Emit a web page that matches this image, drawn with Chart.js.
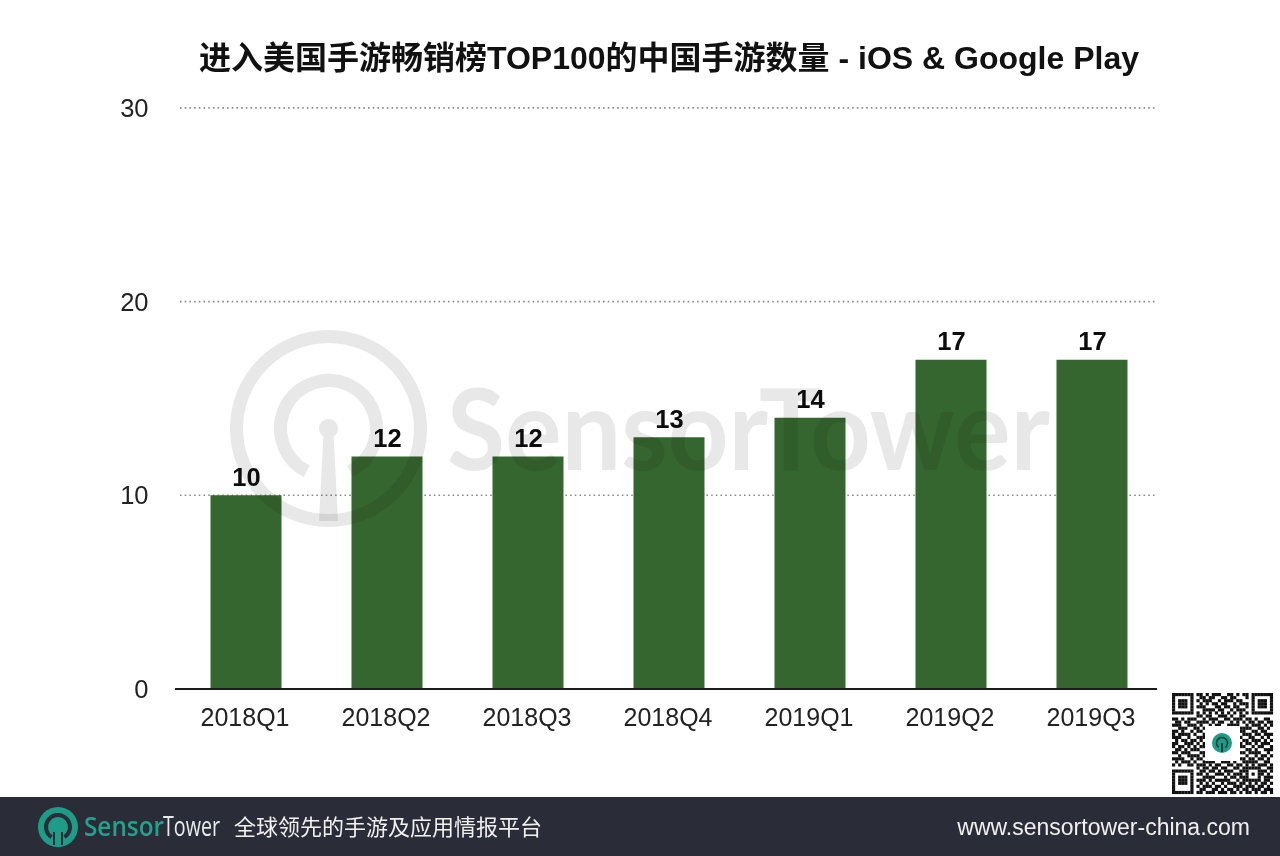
<!DOCTYPE html>
<html><head><meta charset="utf-8">
<style>html,body{margin:0;padding:0;background:#fff}#w{width:1280px;height:856px;position:relative}</style>
<script src="https://cdn.jsdelivr.net/npm/chart.js@4/dist/chart.umd.min.js"></script>
</head><body><div id="w"><canvas id="c" width="1280" height="856"></canvas></div>
<script>
const categories = ["2018Q1","2018Q2","2018Q3","2018Q4","2019Q1","2019Q2","2019Q3"];
const values = [10,12,12,13,14,17,17];
const titleText = "进入美国手游畅销榜TOP100的中国手游数量 - iOS & Google Play";
const sloganText = "全球领先的手游及应用情报平台";
const urlText = "www.sensortower-china.com";
const qrRows = [
"111111101101011100110101101111111",
"100000100110110011011000101000001",
"101110101011100101110110001011101",
"101110100101011011001011101011101",
"101110101110001101101100101011101",
"100000100011110110010111001000001",
"111111101010101010101010101111111",
"000000001101100111010011000000000",
"110101110010111001101110110100110",
"011011001111010110010101011011011",
"111001110100101100111100101110101",
"001110011011110011001011110011010",
"110100101101000000000011001101100",
"101111010010000000000001110110111",
"111001001110000000000010011001010",
"010110110100000000000001101110101",
"110011101011000000000010110101110",
"101101010110000000000011001011001",
"011010111001000000000000110100111",
"110111000111000000000011011110010",
"001001111010110101101100100101101",
"111100101101001110010111011011010",
"010111010011110011101001111100110",
"101001101110101100110110101011101",
"000000001011011011001101111110011",
"111111100110110101110011100011101",
"100000101101001110101110101011010",
"101110100011110001011011100010111",
"101110101110101111100101111110110",
"101110100101010010111011010101101",
"100000101011101101001110111011010",
"100000100110011010110101101110111",
"111111101101110111011010110101101"];
const F = "'Liberation Sans','Noto Sans CJK SC',sans-serif";

const decor = {
  id:'decor',
  beforeDraw(ch){
    const x=ch.ctx; x.save();
    x.fillStyle='#fff'; x.fillRect(0,0,1280,856);
    x.fillStyle='#2a2d38'; x.fillRect(0,797,1280,59);
    x.restore();
  },
  beforeDatasetsDraw(ch){
    const x=ch.ctx, yS=ch.scales.y;
    x.save();
    x.strokeStyle='#8c8c8c'; x.lineWidth=1.6; x.setLineDash([1.6,3.1]);
    yS.ticks.forEach(t=>{ if(t.value===0) return;
      const p=yS.getPixelForValue(t.value);
      x.beginPath(); x.moveTo(180,p); x.lineTo(1157,p); x.stroke();
    });
    x.restore();
  },
  afterDatasetsDraw(ch){
    const x=ch.ctx, yS=ch.scales.y, meta=ch.getDatasetMeta(0);
    x.save();
    // watermark
    x.globalCompositeOperation='multiply';
    x.strokeStyle='#e8e8e8'; x.fillStyle='#e8e8e8';
    x.lineWidth=13;
    x.beginPath(); x.arc(328.5,428.5,92,0,Math.PI*2); x.stroke();
    x.beginPath(); x.arc(328.5,428.5,48,Math.PI*0.65,Math.PI*0.35); x.stroke();
    x.beginPath(); x.arc(328.5,428.5,9.5,0,Math.PI*2);
    x.moveTo(323.5,434); x.lineTo(333.5,434); x.lineTo(338,521); x.lineTo(319,521); x.closePath(); x.fill();
    x.font="bold 113px 'Lato'"; x.textBaseline='alphabetic'; x.textAlign='left';
    x.fillText('SensorTower',447,470,603);
    x.restore();
    // axis line
    x.save();
    const p0=yS.getPixelForValue(0);
    x.strokeStyle='#1c1c1c'; x.lineWidth=2;
    x.beginPath(); x.moveTo(175,p0); x.lineTo(1157,p0); x.stroke();
    // value labels
    x.fillStyle='#0c0c0c'; x.font="bold 25.5px "+F; x.textAlign='center'; x.textBaseline='middle';
    meta.data.forEach((b,i)=>x.fillText(String(values[i]),b.x+0.5,b.y-16.5));
    x.restore();
  },
  afterDraw(ch){
    const x=ch.ctx;
    x.save();
    // footer logo
    x.fillStyle='#1f9c88'; x.beginPath(); x.arc(58,827,20,0,Math.PI*2); x.fill();
    x.strokeStyle='#2a2d38'; x.lineWidth=4;
    x.beginPath(); x.arc(58,827,12,Math.PI*0.68,Math.PI*0.32); x.stroke();
    x.fillStyle='#2a2d38'; x.fillRect(53,832,2,13); x.fillRect(61,832,2,13);
    // footer text
    x.textBaseline='alphabetic'; x.textAlign='left';
    x.font="600 27px 'Open Sans'";
    x.fillStyle='#22a28d'; x.fillText('Sensor',84,836,80);
    x.fillStyle='#e4ecee'; x.font="500 27px 'Open Sans'"; x.fillText('Tower',163,836,57);
    x.fillStyle='#f0f0f0'; x.font="22px 'Noto Sans CJK SC'"; x.fillText(sloganText,234,835);
    x.font="23px 'Liberation Sans'"; x.textAlign='right'; x.fillText(urlText,1250,835);
    // QR
    const q=3.06, ox=1172, oy=693;
    x.save();
    x.filter='blur(0.5px)';
    x.fillStyle='#111';
    qrRows.forEach((r,j)=>{[...r].forEach((c,i)=>{ if(c==='1') x.fillRect(ox+i*q,oy+j*q,q+0.1,q+0.1); });});
    x.restore();
    x.fillStyle='#fff'; x.fillRect(1205,726,35,35);
    x.fillStyle='#1f9c88'; x.beginPath(); x.arc(1222,743,10,0,Math.PI*2); x.fill();
    x.strokeStyle='#0d3d38'; x.lineWidth=1.5; x.beginPath(); x.arc(1222,743,5.5,Math.PI*0.7,Math.PI*0.3); x.stroke();
    x.fillStyle='#0d3d38'; x.fillRect(1221,743,2,9);
    x.restore();
  }
};

new Chart(document.getElementById('c'),{
  type:'bar',
  data:{labels:categories,datasets:[{data:values,backgroundColor:'#35662f',borderWidth:0,categoryPercentage:1,barPercentage:0.5035}]},
  plugins:[decor],
  options:{
    responsive:false,animation:false,devicePixelRatio:1,
    layout:{padding:{left:0,right:117.5,top:0,bottom:0}},
    plugins:{
      legend:{display:false},tooltip:{enabled:false},
      title:{display:true,text:titleText,fullSize:false,color:'#111',
        font:{family:F,size:32,weight:'bold',lineHeight:1.2},padding:{top:40.5,bottom:29}}
    },
    scales:{
      x:{grid:{display:false,drawTicks:false},border:{display:false},
        afterFit(s){s.height=167;},
        ticks:{color:'#222',font:{family:F,size:25},padding:15,labelOffset:-1,maxRotation:0,autoSkip:false}},
      y:{min:0,max:30,grid:{display:false,drawTicks:false},border:{display:false},
        afterFit(s){s.width=175.5;},
        ticks:{stepSize:10,color:'#222',font:{family:F,size:25.5},padding:27,labelOffset:2}}
    }
  }
});
</script></body></html>
